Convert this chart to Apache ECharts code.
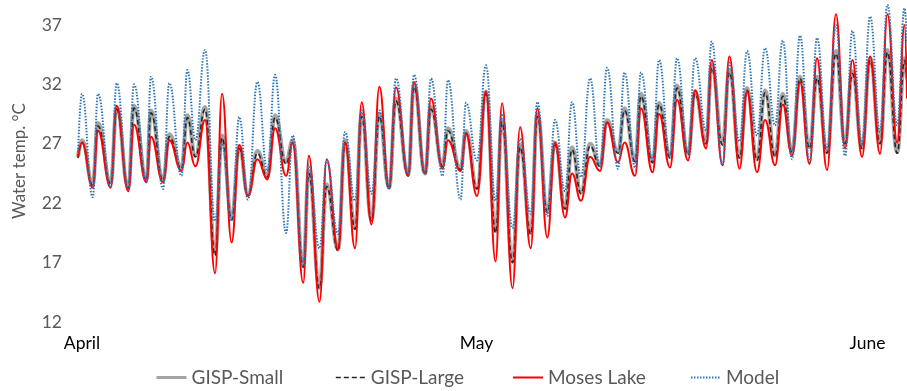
<!DOCTYPE html>
<html>
<head>
<meta charset="utf-8">
<script src="https://cdn.jsdelivr.net/npm/echarts@6/dist/echarts.min.js"></script>
<style>
  html,body{margin:0;padding:0;background:#fff;}
  #chart{width:907px;height:391px;}
</style>
</head>
<body>
<div id="chart"></div>
<script>
/* time of each daily peak / trough, in days from the first reading */
const times = [0,0.23,0.84,1.14,1.87,2.21,2.87,3.2,3.91,4.17,4.86,5.22,5.91,6.25,6.71,7.26,7.83,8.23,8.78,9.22,
  9.71,10.25,10.82,11.26,11.89,12.27,12.87,13.19,13.8,14.21,14.86,15.26,15.83,16.21,16.77,17.22,17.77,18.17,18.87,19.2,
  19.83,20.17,20.83,21.14,21.86,22.17,22.8,23.31,23.86,24.23,24.83,25.26,25.87,26.25,26.82,27.26,27.83,28.23,28.74,29.26,
  29.83,30.23,30.86,31.23,31.83,32.17,32.83,33.2,33.83,34.23,34.86,35.26,35.89,36.21,36.83,37.22,37.8,38.23,38.8,39.26,
  39.83,40.27,40.8,41.26,41.8,42.23,42.8,43.31,43.83,44.25,44.8,45.26,45.83,46.25,46.81,47.23,47.37];

const gispSmall = [25.9,27.3,23.6,28.75,23.75,30.1,23.3,30.2,24.0,29.8,
  24.0,27.8,25.0,29.4,26.0,30.1,17.8,27.7,20.8,26.8,
  22.7,26.4,24.3,29.4,25.45,27.3,16.8,24.7,15.0,23.6,
  18.1,27.3,19.9,29.5,20.6,29.5,23.3,30.8,24.4,32.0,
  24.5,30.1,25.2,28.3,24.9,28.1,23.3,31.4,19.65,29.0,
  17.1,26.9,19.5,29.5,21.35,27.1,21.6,26.7,22.9,27.0,
  25.2,29.0,26.3,30.0,25.6,31.2,25.5,30.45,25.9,31.9,
  26.2,31.4,27.1,33.6,27.0,33.2,25.9,31.7,25.7,31.5,
  26.0,31.2,26.4,32.65,26.7,32.65,26.35,34.8,27.1,33.1,
  26.7,34.2,27.1,34.9,26.3,34.2,32.5];

const gispLarge = [25.8,27.1,23.5,28.5,23.6,29.9,23.2,30.0,23.9,29.6,
  23.9,27.6,24.9,29.2,25.9,29.9,17.6,27.5,20.6,26.6,
  22.6,26.2,24.2,29.2,25.3,27.1,16.6,24.5,14.8,23.4,
  18.0,27.1,19.8,29.3,20.5,29.3,23.2,30.6,24.3,31.8,
  24.4,29.9,25.1,28.1,24.8,27.9,23.2,31.2,19.5,28.8,
  17.0,26.7,19.4,29.3,21.2,26.9,21.5,26.5,22.8,26.8,
  25.1,28.8,26.2,29.8,25.5,31.0,25.4,30.3,25.8,31.7,
  26.1,31.2,27.0,33.4,26.9,33.0,25.8,31.5,25.6,31.3,
  25.9,31.0,26.3,32.5,26.6,32.5,26.2,34.6,27.0,32.9,
  26.6,34.0,27.0,34.7,26.2,34.0,32.3];

const mosesLake = [25.9,27.1,23.3,28.1,23.3,30.2,23.0,28.6,23.75,27.6,
  23.75,27.3,24.7,27.1,25.1,29.0,16.1,31.2,18.7,26.9,
  22.6,25.7,24.0,28.3,24.3,27.1,15.3,26.0,13.7,25.7,
  18.1,27.1,18.2,30.5,20.2,31.8,23.3,31.75,24.3,32.2,
  24.5,30.8,24.9,27.3,24.7,27.85,22.6,31.4,17.1,30.4,
  14.85,28.4,18.2,30.0,19.1,27.1,20.8,24.5,22.2,25.9,
  24.7,28.8,25.45,27.1,24.3,30.0,24.6,29.5,25.0,30.7,
  25.6,31.5,26.6,34.05,25.2,34.35,24.9,31.4,24.6,29.0,
  25.2,30.3,26.0,32.2,25.3,34.2,24.8,37.9,26.6,34.05,
  25.9,34.35,26.15,37.9,27.1,37.0,30.8];

const model = [26.3,31.2,22.5,31.2,23.3,32.1,23.2,32.0,23.8,32.65,
  23.2,32.1,24.3,33.2,27.3,34.9,20.5,27.0,20.5,29.25,
  22.3,32.2,24.7,32.8,19.5,27.7,16.7,25.2,18.2,25.6,
  19.4,28.0,22.2,29.8,22.8,29.8,23.2,32.5,24.5,32.8,
  24.5,32.5,24.3,32.35,22.3,30.45,25.6,33.6,22.2,29.5,
  19.9,27.4,21.1,30.5,20.9,29.0,23.0,30.5,24.2,32.5,
  25.0,33.4,24.9,33.0,25.0,33.0,25.6,34.05,25.9,34.2,
  26.15,34.2,28.1,35.6,25.2,33.8,27.2,34.8,27.7,35.05,
  28.55,35.7,25.7,36.1,25.45,35.9,26.5,37.0,26.0,36.5,
  26.9,37.7,28.0,38.7,28.55,38.4,35.5];

const seriesNames = ["GISP-Small","GISP-Large","Moses Lake","Model"];
const monthLabels = ["April","May","June"];
const monthPos = [0.23,22.77,45.11];
const yTicks = [12,17,22,27,32,37];

const font = "Lato, 'Open Sans', sans-serif";
const chart = echarts.init(document.getElementById("chart"));

const styles = [
  {color:"#a5a5a5",width:4},
  {color:"#262626",width:1.6,type:[5,3]},
  {color:"#ff0000",width:2},
  {color:"#2e75b6",width:2,type:[1.5,1.5]}
];
const legendLeft = [155,335,512,690];
const legendWidth = [3,1.6,2,2];

function pairs(vals){
  return times.map((t,i)=>[t,vals[i]]);
}

function lineSeries(name,vals,style,z){
  return {
    name, type:"line", data:pairs(vals), z,
    showSymbol:false, symbol:"none",
    smooth:0.45, smoothMonotone:"x",
    lineStyle:style, itemStyle:{color:style.color},
    emphasis:{disabled:true}, animation:false
  };
}

// one legend per entry, so the entries sit on an even pitch like the original
const legends = seriesNames.map((name,i)=>({
  left:legendLeft[i], top:368, padding:0, itemWidth:30, itemHeight:12, itemGap:0,
  itemStyle:{opacity:0},
  lineStyle:{width:legendWidth[i]},
  textStyle:{fontFamily:font,fontSize:19,color:"#595959"},
  data:[name]
}));

chart.setOption({
  backgroundColor:"#fff",
  animation:false,
  grid:{left:78,right:0,top:0,bottom:69},
  legend:legends,
  xAxis:{
    type:"value", min:0, max:47.37,
    axisLine:{show:false}, axisTick:{show:false}, splitLine:{show:false},
    axisLabel:{
      customValues:monthPos, margin:12,
      fontFamily:font, fontSize:17.5, color:"#000",
      formatter:v=>{
        let best=0;
        monthPos.forEach((p,i)=>{ if(Math.abs(p-v)<Math.abs(monthPos[best]-v)) best=i; });
        return monthLabels[best];
      }
    }
  },
  yAxis:{
    type:"value", min:12, max:39.1,
    name:"Water temp. °C", nameLocation:"middle", nameGap:50,
    nameTextStyle:{fontFamily:font,fontSize:17,color:"#595959"},
    axisLine:{show:false}, axisTick:{show:false}, splitLine:{show:false},
    axisLabel:{customValues:yTicks, margin:16, fontFamily:font, fontSize:17.5, color:"#595959"}
  },
  series:[
    lineSeries(seriesNames[0],gispSmall,styles[0],1),
    lineSeries(seriesNames[1],gispLarge,styles[1],2),
    lineSeries(seriesNames[2],mosesLake,styles[2],3),
    lineSeries(seriesNames[3],model,styles[3],4)
  ]
});
</script>
</body>
</html>
